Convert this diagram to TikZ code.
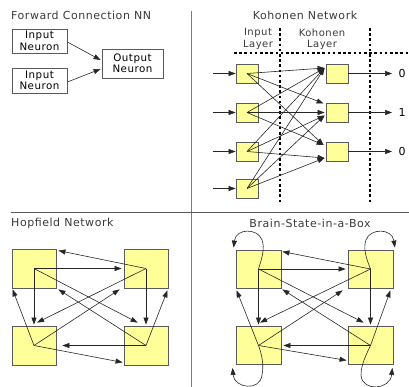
\documentclass[tikz,border=0pt]{standalone}
\usepackage{fontspec}
\setmainfont[LetterSpace=5]{DejaVu Sans}
\usetikzlibrary{arrows.meta,calc}
\definecolor{cellfill}{HTML}{FFFF99}
\definecolor{cellline}{HTML}{5A5A5A}
\definecolor{titlegray}{HTML}{3A3A3A}
\definecolor{rulegray}{HTML}{7A7A7A}
\tikzset{
  paneltitle/.style={text=titlegray, font=\fontsize{11}{13}\selectfont, inner sep=0pt},
  plainbox/.style={draw=cellline, line width=0.8pt, fill=white, align=center,
    font=\fontsize{10.3}{11.5}\selectfont, inner sep=0pt},
  cell/.style={draw=cellline, line width=0.8pt, fill=cellfill, inner sep=0pt},
  smallcell/.style={cell, minimum width=22pt, minimum height=19pt},
  bigcell/.style={cell, minimum width=44pt, minimum height=39pt},
  bsbcell/.style={cell, minimum width=45pt, minimum height=38pt},
  conn/.style={draw=black!85, line width=0.6pt, -{Triangle[length=7pt,width=5pt]}},
  layerline/.style={line width=1.8pt, dash pattern=on 2.6pt off 2.6pt},
  outlabel/.style={font=\fontsize{11}{13}\selectfont, inner sep=0pt},
  layertext/.style={text=titlegray, align=center, font=\fontsize{10}{11.5}\selectfont, inner sep=0pt}
}
\begin{document}
\begin{tikzpicture}[x=1pt,y=-1pt]
\useasboundingbox (0,0) rectangle (409,387);

% quadrant rules
\draw[rulegray, line width=1.5pt] (191.5,11) -- (191.5,387);
\draw[black!65, line width=0.8pt] (11,212) -- (409,212);

% ---------- Forward Connection NN ----------
\node[paneltitle, anchor=west] (tfwd) at (11,15.5) {Forward Connection NN};
\node[plainbox, minimum width=55pt, minimum height=24pt] (in1) at (39.5,41) {Input\\Neuron};
\node[plainbox, minimum width=55pt, minimum height=25pt] (in2) at (39.5,80.5) {Input\\Neuron};
\node[plainbox, minimum width=61pt, minimum height=29pt] (out) at (132.5,63.5) {Output\\Neuron};
\draw[conn] ([yshift=-1pt]in1.east) -- ([xshift=-1pt,yshift=3.5pt]out.west);
\draw[conn] ([yshift=-1.5pt]in2.east) -- ([xshift=-1pt,yshift=-5.5pt]out.west);

% ---------- Kohonen Network ----------
\node[paneltitle] (tkoh) at (305,15.5) {Kohonen Network};
\node[layertext] (linput) at (258,39) {Input\\Layer};
\node[layertext] (lkoh) at (322,39) {Kohonen\\Layer};
\draw[layerline] (280,28) -- (280,203);
\draw[layerline] (370,28) -- (370,203);
\draw[layerline] (234,53) -- (409,53);

\node[smallcell] (i1) at (247,73.5) {};
\node[smallcell] (i2) at (247,112.5) {};
\node[smallcell] (i3) at (247,151.5) {};
\node[smallcell] (i4) at (247,188.5) {};
\node[smallcell] (k1) at (337,73.5) {};
\node[smallcell] (k2) at (337,112.5) {};
\node[smallcell] (k3) at (337,151.5) {};

\foreach \n/\y in {1/73.5,2/112.5,3/151.5,4/188.5}{
  \coordinate (src\n) at (213,\y);
  \draw[conn] (src\n) -- (i\n.west);
}
\foreach \n/\y/\v in {1/73.5/0,2/112.5/1,3/151.5/0}{
  \coordinate (dst\n) at (392,\y);
  \draw[conn] (k\n.east) -- (dst\n);
  \node[outlabel] (val\n) at (402,\y) {\v};
}

% all inputs feed every Kohonen unit
\foreach \n in {1,2,3,4}{
  \draw[conn] (i\n.center) -- ([xshift=-1pt,yshift=5.5pt]k1.west);
}
\draw[conn] (i1.center) -- ([xshift=-2pt,yshift=9pt]k2.west);
\draw[conn] (i2.center) -- ([xshift=-1pt]k2.west);
\draw[conn] (i3.center) -- ([xshift=-1pt,yshift=-3pt]k2.west);
\draw[conn] (i4.center) -- ([xshift=-1pt,yshift=-3pt]k2.west);
\draw[conn] (i1.center) -- ([xshift=-2pt,yshift=6.5pt]k3.west);
\draw[conn] (i2.center) -- ([xshift=-2pt,yshift=6.5pt]k3.west);
\draw[conn] (i3.center) -- ([xshift=-1pt,yshift=-6.5pt]k3.west);
\draw[conn] (i4.center) -- ([xshift=-1pt,yshift=-6.5pt]k3.west);

% ---------- Hopfield Network ----------
\node[paneltitle, anchor=west] (thop) at (11,223) {Hopfield Network};
\node[bigcell] (h1) at (34,268.5) {};
\node[bigcell] (h2) at (146,268.5) {};
\node[bigcell] (h3) at (34,345.5) {};
\node[bigcell] (h4) at (146,345.5) {};

\draw[conn] (h1.center) -- ([xshift=-2pt]h2.west);
\draw[conn] (h1.center) -- ([yshift=1pt]h3.north);
\draw[conn] (h1.center) -- ([xshift=14pt,yshift=3pt]h4.north west);
\draw[conn] (h2.center) -- ([xshift=2pt,yshift=-2pt]h1.north east);
\draw[conn] (h2.center) -- ([yshift=1pt]h4.north);
\draw[conn] (h2.center) -- ([xshift=3pt,yshift=3pt]h3.north);
\draw[conn] (h3.center) -- ([xshift=1pt,yshift=-1pt]h1.south west);
\draw[conn] (h3.center) -- ([xshift=-4pt,yshift=-1pt]h2.south west);
\draw[conn] (h3.center) -- ([xshift=-1pt,yshift=3pt]h4.south west);
\draw[conn] (h4.center) -- ([xshift=6pt]h3.east);
\draw[conn] (h4.center) -- ([xshift=-1pt,yshift=-2pt]h2.south east);
\draw[conn] (h4.center) -- ([xshift=2pt,yshift=-1pt]h1.south east);

% ---------- Brain-State-in-a-Box ----------
\node[paneltitle] (tbsb) at (310,223) {Brain-State-in-a-Box};
\node[bsbcell] (b1) at (258.5,269) {};
\node[bsbcell] (b2) at (370.5,269) {};
\node[bsbcell] (b3) at (258.5,345.5) {};
\node[bsbcell] (b4) at (370.5,345.5) {};

\draw[conn] (b1.center) -- ([xshift=-2pt]b2.west);
\draw[conn] (b1.center) -- ([yshift=1.5pt]b3.north);
\draw[conn] (b1.center) -- ([xshift=16pt,yshift=3.5pt]b4.north west);
\draw[conn] (b2.center) -- ([xshift=1pt,yshift=-2pt]b1.north east);
\draw[conn] (b2.center) -- ([yshift=1.5pt]b4.north);
\draw[conn] (b2.center) -- ([xshift=1.5pt,yshift=3.5pt]b3.north);
\draw[conn] (b3.center) -- ([xshift=1pt,yshift=-2pt]b1.south west);
\draw[conn] (b3.center) -- ([xshift=-5pt,yshift=-2pt]b2.south west);
\draw[conn] (b3.center) -- ([xshift=-1pt,yshift=4.5pt]b4.south west);
\draw[conn] (b4.center) -- ([xshift=2pt]b3.east);
\draw[conn] (b4.center) -- ([xshift=-3pt,yshift=-2pt]b2.south east);
\draw[conn] (b4.center) -- ([xshift=1pt,yshift=-1pt]b1.south east);

% self-feedback loops
\draw[conn] (b1.center) .. controls (262,258) and (265,248) .. (262,240)
  .. controls (258,228) and (236,228) .. ([xshift=-2pt,yshift=2pt]b1.north west);
\draw[conn] (b2.center) .. controls (366,258) and (363,248) .. (366,240)
  .. controls (370,228) and (392,228) .. ([xshift=1.5pt,yshift=2pt]b2.north east);
\draw[conn] (b3.center) .. controls (262,355) and (264,365) .. (262,375)
  .. controls (260,392) and (234,388) .. ([xshift=-3pt,yshift=-3pt]b3.south west);
\draw[conn] (b4.center) .. controls (366,355) and (361,365) .. (361,375)
  .. controls (362,392) and (390,390) .. ([xshift=-1pt,yshift=-3pt]b4.south east);
\end{tikzpicture}
\end{document}
